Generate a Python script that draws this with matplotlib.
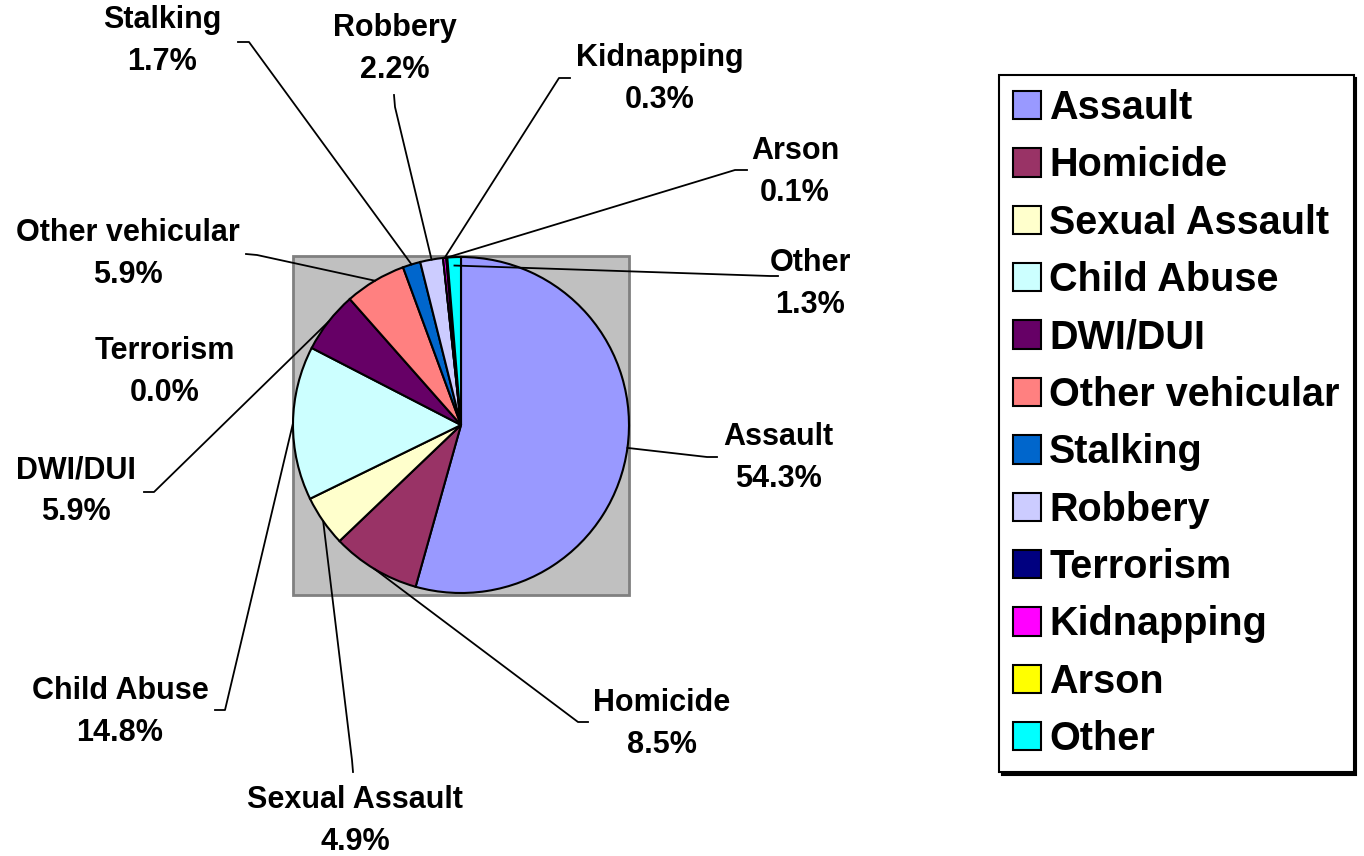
"""
Crime victim categories - pie chart with leader-line labels
"""

import numpy as np
import matplotlib
matplotlib.use('Agg')
import matplotlib.pyplot as plt
from matplotlib.patches import Rectangle

categories = ["Assault", "Homicide", "Sexual Assault", "Child Abuse", "DWI/DUI",
              "Other vehicular", "Stalking", "Robbery", "Terrorism", "Kidnapping",
              "Arson", "Other"]
shares = [54.3, 8.5, 4.9, 14.8, 5.9, 5.9, 1.7, 2.2, 0.0, 0.3, 0.1, 1.3]
colors = ["#9999FF", "#993366", "#FFFFCC", "#CCFFFF", "#660066", "#FF8080",
          "#0066CC", "#CCCCFF", "#000080", "#FF00FF", "#FFFF00", "#00FFFF"]

W, H = 1364, 856

# label centre (px, from top-left) and leader tail points near the label
label_pos = {
    "Assault": (778, 458), "Homicide": (662, 724), "Sexual Assault": (355, 821),
    "Child Abuse": (120, 712), "DWI/DUI": (76, 491), "Other vehicular": (128, 254),
    "Stalking": (162, 41), "Robbery": (395, 49), "Terrorism": (165, 372),
    "Kidnapping": (660, 79), "Arson": (795, 172), "Other": (810, 284),
}
leader_tail = {
    "Assault": [(717, 457), (707, 457)], "Homicide": [(588, 722), (578, 722)],
    "Sexual Assault": [(353, 772), (352, 760)], "Child Abuse": [(215, 710), (225, 710)],
    "DWI/DUI": [(144, 492), (154, 492)], "Other vehicular": [(246, 254), (257, 255)],
    "Stalking": [(238, 42), (249, 42)], "Robbery": [(394, 95), (395, 107)],
    "Kidnapping": [(570, 78), (559, 78)], "Arson": [(747, 170), (735, 170)],
    "Other": [(778, 276), (770, 276)],
}

plt.rcParams['font.family'] = ['Liberation Sans', 'DejaVu Sans']

fig = plt.figure(figsize=(W / 100, H / 100), dpi=100)
ax = fig.add_axes([0, 0, 1, 1])

cx, cy, r = 461, H - 425, 168

# gray plot area behind the pie
ax.add_patch(Rectangle((cx - r, cy - r - 2), 2 * r, 2 * r + 3, facecolor='#C0C0C0',
                       edgecolor='#808080', linewidth=2, zorder=0))

wedges, _ = ax.pie(shares, colors=colors, startangle=90, counterclock=False,
                   center=(cx, cy), radius=r,
                   wedgeprops=dict(edgecolor='black', linewidth=1.5))
for w in wedges:
    w.set_zorder(2)

for w, name, val in zip(wedges, categories, shares):
    lx, ly = label_pos[name]
    ax.text(lx, H - ly, f"{name}\n{val:.1f}%", ha='center', va='center',
            fontsize=22, fontweight='bold', linespacing=1.52)
    if name in leader_tail:
        mid = np.deg2rad((w.theta1 + w.theta2) / 2)
        # Excel ends the "Other" leader a little inside the slice
        rr = r * 0.95 if name == "Other" else r
        px, py = cx + rr * np.cos(mid), cy + rr * np.sin(mid)
        pts = leader_tail[name]
        xs = [p[0] for p in pts] + [px]
        ys = [H - p[1] for p in pts] + [py]
        ax.plot(xs, ys, color='black', linewidth=1.3, zorder=3)

ax.set_xlim(0, W)
ax.set_ylim(0, H)
ax.set_aspect('equal')
ax.axis('off')

leg = ax.legend(wedges, categories, loc='upper left', bbox_to_anchor=(999 / W, 1 - 75 / H),
                prop=dict(weight='bold', size=28.5), frameon=True,
                fancybox=False, edgecolor='black', framealpha=1,
                handlelength=0.72, handleheight=0.72, handletextpad=0.2,
                labelspacing=0.49, borderpad=0.35, borderaxespad=0,
                shadow={'color': 'black', 'alpha': 1})
leg.get_frame().set_linewidth(1.5)

fig.savefig("out.png", dpi=100)
